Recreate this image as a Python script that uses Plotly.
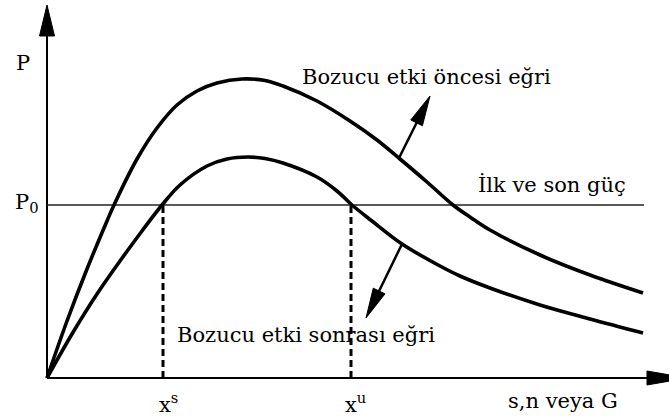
import numpy as np
import plotly.graph_objects as go

# Output power versus operating variable, before and after the disturbance
s_before = [0, 20, 40, 60, 67, 90, 110, 130, 150, 170, 195, 218, 236, 270, 303, 330,
            353, 380, 406, 423, 443, 493, 543, 596]
p_before = [0, 57, 109, 157, 173, 219, 250, 273, 287, 295, 299, 297.5, 292, 277, 257, 238,
            219, 196, 173, 161, 148, 123, 103, 85]

s_after = [0, 25, 50, 73, 95, 115, 133, 160, 180, 201, 218, 236, 270, 290, 305, 325, 355,
           393, 413, 443, 493, 543, 596]
p_after = [0, 44, 84, 117, 147, 173, 193, 212, 219, 221, 219.5, 215, 201, 187, 173, 157, 134,
           112, 102, 90, 73, 59, 45]

# Initial and final power level, and its crossings with the post-disturbance curve
P0 = 173
P0_END = 597
X_S = 116
X_U = 304

# Axis extents and arrows (tail -> tip)
Y_AXIS_TIP = 373
X_AXIS_TIP = 640
ARROW_BEFORE = [(352, 220), (383, 282)]
ARROW_AFTER = [(355, 134), (319, 60)]

FONT = dict(family="DejaVu Serif, Liberation Serif, serif", size=21, color="black")
INK = "black"

fig = go.Figure()


def arrow(tail, tip, length, half_width, width):
    """Stem plus filled slender head, in data units (1 unit = 1 px)."""
    t = np.array(tail, float)
    h = np.array(tip, float)
    u = (h - t) / np.linalg.norm(h - t)
    n = np.array([-u[1], u[0]])
    base = h - length * u
    fig.add_trace(go.Scatter(x=[t[0], base[0] + 2 * u[0]], y=[t[1], base[1] + 2 * u[1]],
                             mode="lines", line=dict(color=INK, width=width),
                             hoverinfo="skip", showlegend=False))
    pts = [h, base + half_width * n, base - half_width * n, h]
    fig.add_trace(go.Scatter(x=[p[0] for p in pts], y=[p[1] for p in pts],
                             mode="lines", fill="toself", fillcolor=INK,
                             line=dict(color=INK, width=1),
                             hoverinfo="skip", showlegend=False))


# Axes
arrow((0, 0), (0, Y_AXIS_TIP), 31, 7.5, 2)
arrow((0, 0), (X_AXIS_TIP, 0), 40, 7, 2)

# P0 level
fig.add_trace(go.Scatter(x=[0, P0_END], y=[P0, P0], mode="lines",
                         line=dict(color="#222", width=1.7),
                         hoverinfo="skip", showlegend=False))

# Dashed drop lines at the crossing points
for xv in (X_S, X_U):
    fig.add_trace(go.Scatter(x=[xv, xv], y=[0, P0], mode="lines",
                             line=dict(color=INK, width=3, dash="7px,4px"),
                             hoverinfo="skip", showlegend=False))

# Power curves
for sx, py in ((s_before, p_before), (s_after, p_after)):
    fig.add_trace(go.Scatter(x=sx, y=py, mode="lines",
                             line=dict(color=INK, width=3.6, shape="spline", smoothing=1.0),
                             hoverinfo="skip", showlegend=False))

# Arrows pointing from curves to their labels
arrow(*ARROW_BEFORE, 30, 6.5, 2.5)
arrow(*ARROW_AFTER, 30, 6.5, 2.5)

labels = [
    ("P", -24, 315, "center"),
    ("P<sub>0</sub>", -34, 175, "left"),
    ("x<sup>s</sup>", 110, -25, "left"),
    ("x<sup>u</sup>", 296, -25, "left"),
    ("s,n veya G", 573, -23, "right"),
    ("İlk ve son güç", 429, 193, "left"),
    ("Bozucu etki öncesi eğri", 253, 301, "left"),
    ("Bozucu etki sonrası eğri", 128, 43, "left"),
]
for text, x, y, xa in labels:
    fig.add_annotation(x=x, y=y, text=text, showarrow=False, xanchor=xa,
                       yanchor="middle", font=FONT, xref="x", yref="y")

fig.update_layout(
    width=669, height=419,
    margin=dict(l=0, r=0, t=0, b=0),
    paper_bgcolor="white", plot_bgcolor="white",
    xaxis=dict(range=[-47, 622], visible=False, fixedrange=True),
    yaxis=dict(range=[-41, 378], visible=False, fixedrange=True),
    showlegend=False,
)

fig.write_html("out.html")
